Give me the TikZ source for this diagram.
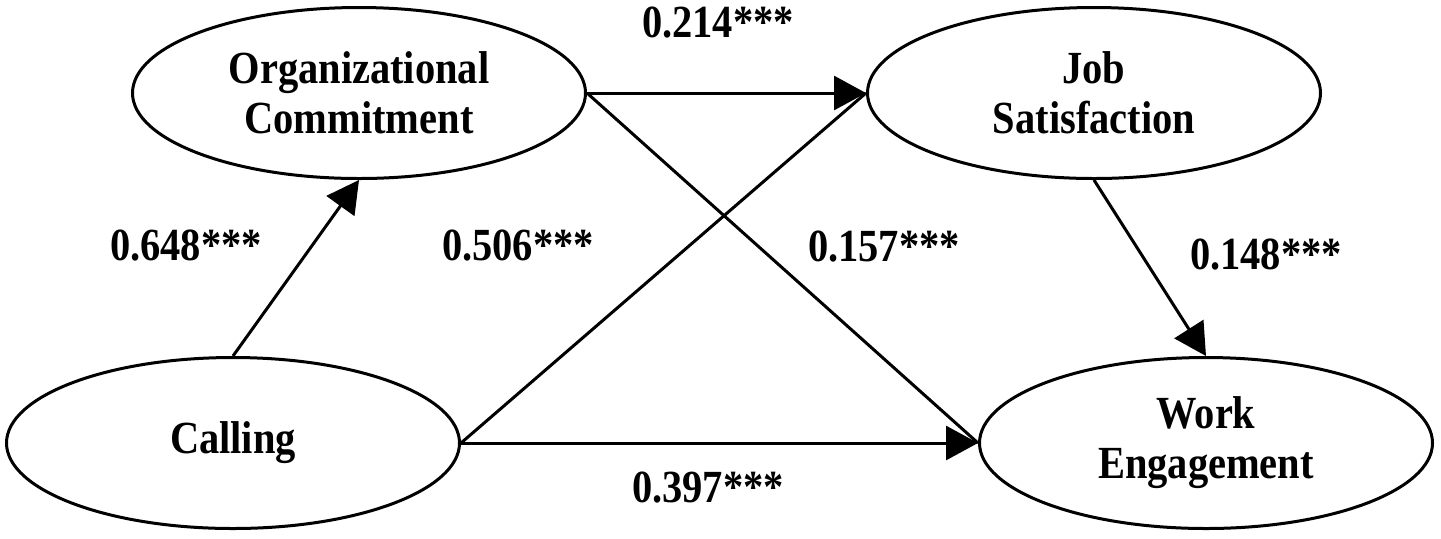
\documentclass[tikz,border=0pt]{standalone}
\usepackage{fontspec}
\setmainfont{Liberation Serif}[FakeStretch=0.88]
\usetikzlibrary{arrows.meta,shapes.geometric}
\begin{document}
\begin{tikzpicture}[x=0.5pt,y=-0.5pt,
  latent/.style={draw, ellipse, line width=1.5pt, minimum width=226.5pt, minimum height=85.5pt,
    inner sep=0pt, align=center, font=\fontsize{23}{25}\selectfont\bfseries},
  coef/.style={font=\fontsize{23}{25}\selectfont\bfseries, inner sep=0pt},
  arrowline/.style={line width=1.5pt, -{Triangle[length=16pt,width=17pt]}},
  plainline/.style={line width=1.5pt}]
\useasboundingbox (0,0) rectangle (1441,538);
\node[latent] (oc) at (359,93) {Organizational\\Commitment};
\node[latent] (js) at (1094,93) {Job\\Satisfaction};
\node[latent] (ca) at (233,443) {Calling};
\node[latent] (we) at (1206,443) {Work\\Engagement};
\draw[arrowline] (ca.north) -- (oc.south);
\draw[plainline] (oc.east) -- (we.west);
\draw[plainline] (ca.east) -- (js.west);
\draw[arrowline] (oc.east) -- (js.west);
\draw[arrowline] (ca.east) -- (we.west);
\draw[arrowline] (js.south) -- (we.north);
\node[coef] (l1) at (718,23) {0.214***};
\node[coef] (l2) at (186,246) {0.648***};
\node[coef] (l3) at (518,246) {0.506***};
\node[coef] (l4) at (884,247) {0.157***};
\node[coef] (l5) at (1266,255) {0.148***};
\node[coef] (l6) at (708,488) {0.397***};
\end{tikzpicture}
\end{document}
